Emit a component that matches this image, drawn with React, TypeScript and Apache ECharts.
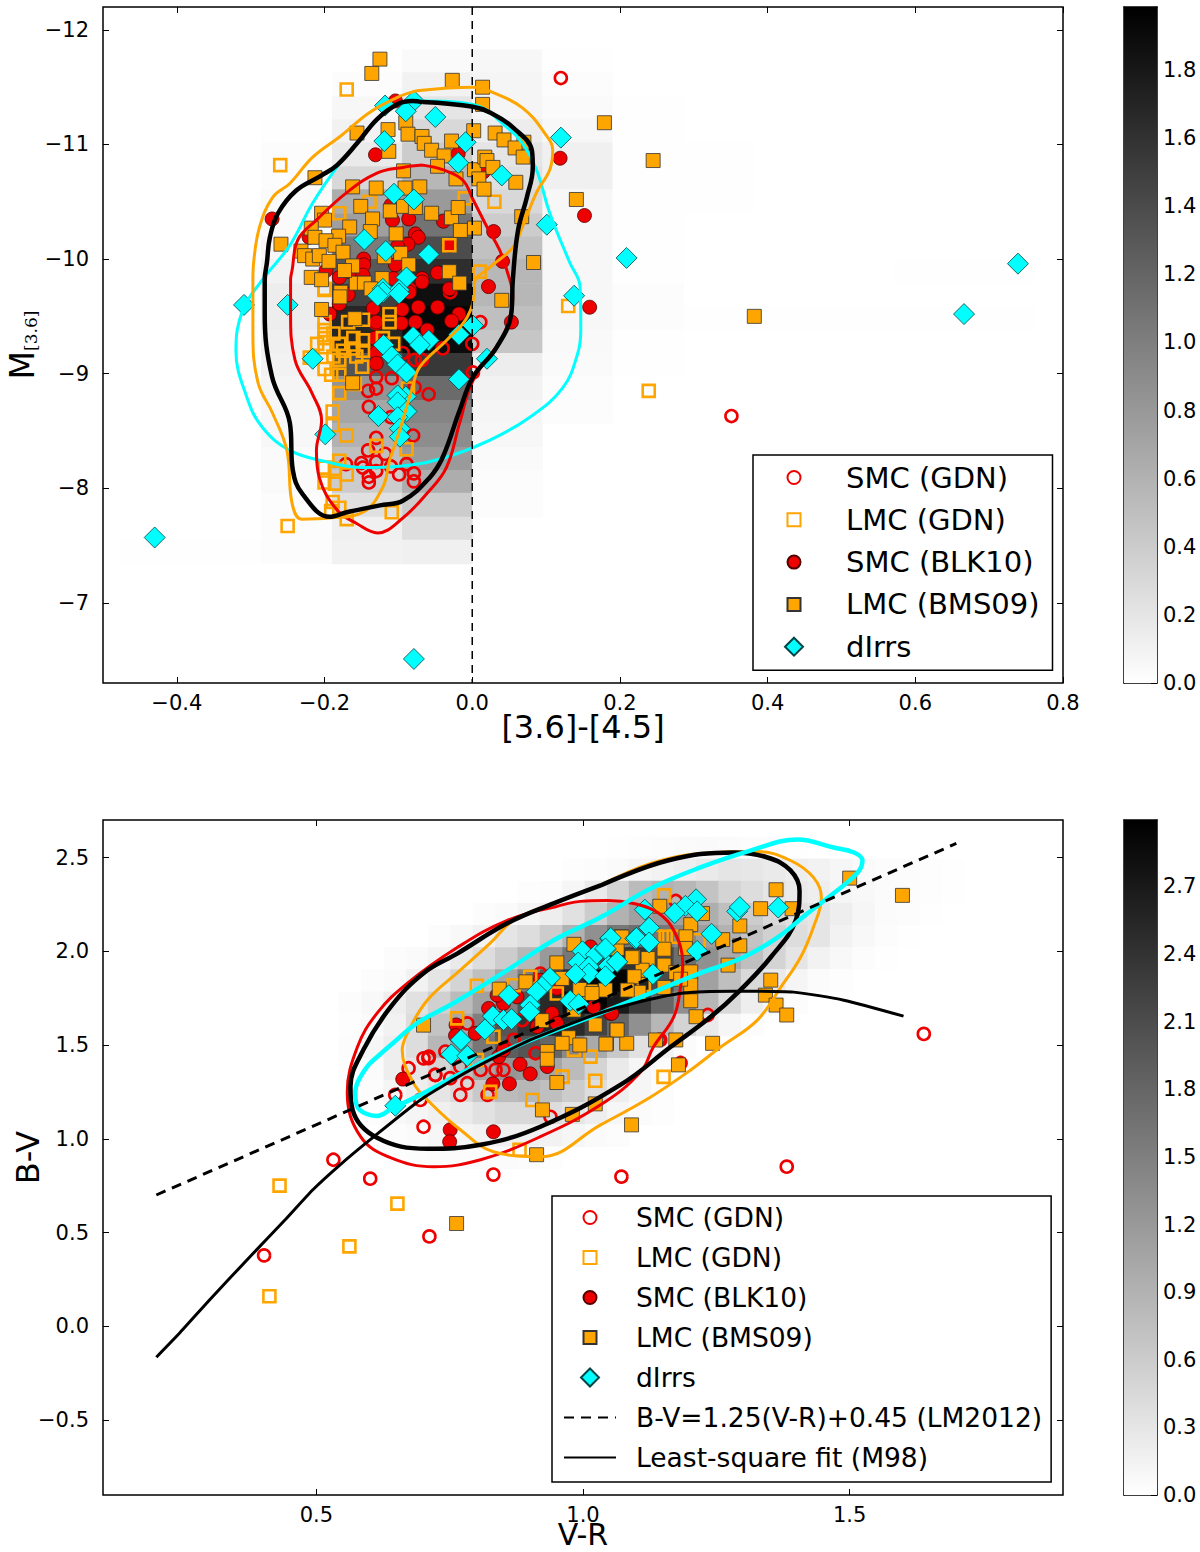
import React, { useEffect, useRef } from "react";
import * as echarts from "echarts";

type P = number[];

// ---------- top panel data ----------
const topHeatX = [-0.476, -0.381, -0.286, -0.19, -0.095, 0, 0.095, 0.19, 0.286, 0.381, 0.476, 0.571, 0.667, 0.762];
const topHeatY = [-11.83, -11.63, -11.42, -11.22, -11.02, -10.81, -10.61, -10.4, -10.2, -10.0, -9.79, -9.59, -9.38, -9.18, -8.98, -8.77, -8.57, -8.36, -8.16, -7.96, -7.75, -7.55, -7.34];
const topHeat = [
  [0, 0, 0, 0, 0.04, 0.06, 0.01, 0, 0, 0, 0, 0, 0],
  [0, 0, 0, 0.02, 0.1, 0.08, 0.02, 0, 0, 0, 0, 0, 0],
  [0, 0, 0, 0.06, 0.2, 0.08, 0.04, 0.01, 0, 0, 0, 0, 0],
  [0, 0, 0.01, 0.1, 0.3, 0.14, 0.06, 0.01, 0, 0, 0, 0, 0],
  [0, 0, 0.02, 0.16, 0.4, 0.2, 0.12, 0.01, 0.01, 0, 0, 0, 0],
  [0, 0, 0.02, 0.3, 0.56, 0.24, 0.12, 0.01, 0.01, 0, 0, 0, 0],
  [0, 0, 0.04, 0.64, 0.79, 0.3, 0.06, 0.01, 0.01, 0, 0, 0, 0],
  [0, 0, 0.04, 0.75, 1.09, 0.4, 0.06, 0.01, 0, 0, 0, 0, 0],
  [0, 0, 0.06, 1.03, 1.39, 0.48, 0.06, 0.01, 0, 0, 0, 0, 0],
  [0, 0, 0.1, 1.29, 1.63, 0.56, 0.06, 0.01, 0, 0, 0, 0.01, 0.01],
  [0, 0, 0.14, 1.49, 1.87, 0.56, 0.06, 0.02, 0, 0, 0, 0, 0],
  [0, 0, 0.14, 1.69, 1.93, 0.5, 0.06, 0.02, 0.01, 0.01, 0.01, 0.01, 0.01],
  [0, 0, 0.12, 1.69, 1.89, 0.44, 0.05, 0.01, 0, 0, 0, 0, 0],
  [0, 0, 0.1, 1.33, 1.55, 0.14, 0.04, 0.01, 0, 0, 0, 0, 0],
  [0, 0, 0.08, 0.83, 1.15, 0.1, 0.02, 0, 0, 0, 0, 0, 0],
  [0, 0, 0.06, 0.69, 0.95, 0.08, 0.02, 0, 0, 0, 0, 0, 0],
  [0, 0, 0.06, 0.6, 0.89, 0.06, 0, 0, 0, 0, 0, 0, 0],
  [0, 0, 0.04, 0.5, 0.79, 0.04, 0, 0, 0, 0, 0, 0, 0],
  [0, 0, 0.04, 0.4, 0.64, 0.02, 0, 0, 0, 0, 0, 0, 0],
  [0, 0, 0.02, 0.24, 0.4, 0.02, 0, 0, 0, 0, 0, 0, 0],
  [0, 0, 0.02, 0.12, 0.26, 0, 0, 0, 0, 0, 0, 0, 0],
  [0.01, 0.01, 0.02, 0.1, 0.12, 0, 0, 0, 0, 0, 0, 0, 0],
];

const topSmcGdn: P[] = [[0.12, -11.58], [0.351, -8.63], [-0.03, -9.71], [0.011, -9.45], [0, -9.26], [-0.04, -9.22], [-0.078, -9.12], [-0.068, -9.12], [0.001, -9.01], [-0.13, -8.97], [-0.109, -8.96], [-0.078, -8.88], [-0.059, -8.82], [-0.141, -8.85], [-0.13, -8.87], [-0.14, -8.71], [-0.11, -8.62], [-0.08, -8.46], [-0.13, -8.44], [-0.141, -8.33], [-0.118, -8.3], [-0.171, -8.21], [-0.15, -8.22], [-0.148, -8.18], [-0.13, -8.23], [-0.13, -8.15], [-0.11, -8.19], [-0.089, -8.21], [-0.099, -8.12], [-0.079, -8.13], [-0.079, -8.06], [-0.14, -8.05], [-0.14, -8.1], [-0.13, -9.44], [-0.13, -9.31], [-0.13, -9.19], [-0.094, -9.18]];
const topLmcGdn: P[] = [[-0.2, -9.73], [-0.148, -9.47], [-0.2, -9.45], [-0.2, -9.38], [-0.2, -9.31], [-0.2, -9.23], [-0.21, -9.26], [-0.22, -9.14], [-0.2, -9.04], [-0.191, -8.99], [-0.18, -8.99], [-0.188, -9.15], [-0.18, -9.12], [-0.175, -9.2], [-0.188, -9.35], [-0.18, -9.26], [-0.157, -9.15], [-0.161, -9.31], [-0.148, -9.29], [-0.161, -9.22], [-0.149, -9.06], [-0.159, -8.91], [-0.18, -8.83], [-0.168, -9.45], [-0.148, -9.2], [-0.112, -9.52], [-0.112, -9.45], [-0.107, -9.26], [-0.121, -9.31], [-0.087, -8.87], [-0.189, -8.67], [-0.189, -8.55], [-0.17, -8.46], [-0.13, -8.37], [-0.089, -8.34], [-0.18, -8.24], [-0.2, -8.18], [-0.186, -8.17], [-0.17, -8.12], [-0.2, -8.05], [-0.186, -8.04], [-0.189, -7.88], [-0.18, -7.83], [-0.191, -7.8], [-0.17, -7.73], [-0.109, -7.79], [-0.25, -7.67], [0.13, -9.59], [-0.17, -11.48], [-0.26, -10.82], [-0.18, -10.4], [-0.139, -10.5], [-0.01, -10.53], [0.03, -10.5], [-0.031, -10.12], [0.01, -9.89], [-0.2, -9.74], [0.239, -8.85]];
const topSmcBlk: P[] = [[-0.104, -11.38], [-0.131, -10.91], [-0.271, -10.35], [0.119, -10.88], [0.152, -10.38], [-0.031, -10.12], [0.029, -10.24], [0.041, -9.98], [0.022, -9.76], [-0.039, -10.33], [-0.077, -10.22], [-0.073, -10.19], [-0.087, -10.13], [-0.101, -10.11], [-0.086, -10.35], [-0.108, -10.34], [-0.11, -10.47], [-0.147, -10.0], [-0.147, -9.95], [-0.104, -9.95], [-0.198, -9.9], [-0.18, -9.84], [-0.166, -9.89], [-0.148, -9.86], [-0.068, -9.83], [-0.047, -9.88], [-0.221, -10.19], [0.015, -10.76], [-0.019, -10.92], [-0.085, -9.74], [-0.031, -9.74], [-0.107, -9.83], [0.053, -9.45], [-0.095, -9.56], [-0.073, -9.58], [-0.047, -9.58], [-0.018, -9.52], [-0.028, -9.46], [-0.077, -9.45], [-0.096, -9.44], [-0.061, -9.38], [-0.085, -9.71], [-0.068, -9.8], [-0.134, -9.57], [-0.18, -9.61], [-0.168, -9.69], [-0.193, -9.52], [-0.13, -9.45], [-0.132, -9.31], [-0.13, -9.18], [-0.13, -9.09], [0.159, -9.58]];
const topLmcBms: P[] = [[-0.125, -11.745], [-0.136, -11.62], [-0.027, -11.56], [0.014, -11.5], [0.014, -11.35], [-0.114, -11.13], [-0.09, -11.19], [-0.087, -11.09], [-0.068, -11.07], [-0.065, -11.01], [-0.055, -10.95], [-0.038, -10.9], [0.002, -11.12], [-0.028, -11.03], [0.031, -11.1], [0.043, -11.04], [0.07, -11.02], [0.058, -10.97], [0.069, -10.89], [-0.113, -10.94], [-0.156, -11.1], [-0.213, -10.71], [-0.093, -10.77], [-0.047, -10.81], [-0.022, -10.7], [0.003, -10.78], [0.017, -10.89], [0.02, -10.86], [0.028, -10.8], [0.009, -10.7], [0.016, -10.61], [0.059, -10.67], [-0.162, -10.63], [-0.13, -10.62], [-0.091, -10.62], [-0.071, -10.63], [-0.151, -10.46], [-0.111, -10.42], [-0.093, -10.46], [-0.077, -10.45], [-0.055, -10.4], [-0.028, -10.36], [-0.019, -10.45], [-0.016, -10.25], [0.003, -10.27], [0.067, -10.37], [-0.204, -10.4], [-0.2, -10.34], [-0.135, -10.35], [-0.218, -10.27], [-0.213, -10.19], [-0.259, -10.13], [-0.166, -10.28], [-0.138, -10.24], [-0.181, -10.2], [-0.103, -10.22], [-0.198, -10.16], [-0.186, -10.12], [-0.175, -10.06], [-0.232, -10.07], [-0.227, -10.03], [-0.216, -10.0], [-0.207, -10.03], [-0.194, -9.98], [-0.162, -9.94], [-0.097, -10.05], [-0.119, -10.02], [-0.086, -9.95], [0.083, -9.97], [-0.218, -9.84], [-0.031, -9.89], [-0.017, -9.79], [-0.122, -9.83], [-0.157, -9.79], [-0.146, -9.79], [-0.137, -9.74], [0.141, -10.52], [0.179, -11.19], [0.245, -10.86], [0.382, -9.5], [0.04, -9.64], [-0.204, -9.56], [-0.178, -9.71], [-0.173, -9.9], [-0.204, -9.82], [-0.179, -9.67], [-0.159, -9.48], [-0.162, -8.92]];
const topDirr: P[] = [[-0.118, -11.34], [-0.079, -11.38], [-0.09, -11.29], [-0.05, -11.24], [-0.119, -11.03], [-0.009, -11.02], [0.12, -11.06], [-0.019, -10.84], [0.04, -10.73], [-0.106, -10.57], [-0.079, -10.52], [0.101, -10.3], [-0.146, -10.17], [-0.117, -10.07], [-0.059, -10.04], [-0.089, -9.84], [-0.121, -9.74], [-0.099, -9.73], [0.209, -10.01], [0.138, -9.68], [0.739, -9.96], [0.666, -9.52], [-0.309, -9.6], [-0.25, -9.6], [-0.43, -7.57], [-0.079, -6.51], [-0.121, -9.71], [-0.128, -9.68], [-0.099, -9.7], [-0.08, -9.32], [-0.059, -9.29], [-0.071, -9.25], [-0.018, -9.34], [0.001, -9.42], [-0.12, -9.25], [-0.109, -9.15], [-0.101, -9.08], [-0.089, -9.01], [0.02, -9.13], [-0.216, -9.13], [-0.018, -8.95], [-0.09, -8.8], [-0.101, -8.81], [-0.101, -8.75], [-0.089, -8.67], [-0.127, -8.63], [-0.101, -8.62], [-0.098, -8.52], [-0.098, -8.45], [-0.199, -8.47]];

const topBlackContour: P[] = [[-0.067, -11.37], [0.001, -11.33], [0.024, -11.28], [0.055, -11.15], [0.081, -10.94], [0.082, -10.8], [0.074, -10.54], [0.062, -10.25], [0.055, -9.82], [0.053, -9.53], [0.033, -9.23], [0.001, -8.97], [-0.017, -8.68], [-0.04, -8.27], [-0.058, -8.09], [-0.094, -7.89], [-0.125, -7.85], [-0.17, -7.79], [-0.193, -7.75], [-0.23, -7.95], [-0.243, -8.16], [-0.247, -8.57], [-0.271, -8.97], [-0.281, -9.53], [-0.281, -9.82], [-0.278, -9.97], [-0.274, -10.19], [-0.263, -10.4], [-0.238, -10.6], [-0.204, -10.73], [-0.183, -10.82], [-0.156, -11.01], [-0.129, -11.22], [-0.102, -11.35], [-0.081, -11.38], [-0.067, -11.37]];
const topOrangeContour: P[] = [[-0.075, -11.47], [0.001, -11.5], [0.026, -11.46], [0.068, -11.32], [0.098, -11.1], [0.109, -10.95], [0.105, -10.78], [0.087, -10.58], [0.068, -10.28], [0.055, -10.1], [0.024, -9.93], [0.003, -9.79], [0.003, -9.73], [-0.007, -9.49], [-0.035, -9.29], [-0.071, -9.06], [-0.081, -8.88], [-0.098, -8.51], [-0.112, -8.24], [-0.121, -8.01], [-0.148, -7.79], [-0.193, -7.74], [-0.231, -7.73], [-0.244, -7.87], [-0.251, -8.33], [-0.27, -8.65], [-0.29, -8.92], [-0.297, -9.35], [-0.297, -9.82], [-0.296, -9.97], [-0.288, -10.28], [-0.27, -10.54], [-0.247, -10.66], [-0.216, -10.89], [-0.179, -11.07], [-0.139, -11.28], [-0.102, -11.41], [-0.075, -11.47]];
const topRedContour: P[] = [[-0.067, -10.82], [-0.04, -10.78], [-0.013, -10.69], [0.001, -10.52], [0.02, -10.28], [0.037, -10.08], [0.047, -9.9], [0.055, -9.67], [0.053, -9.55], [0.041, -9.32], [0.001, -8.94], [-0.017, -8.57], [-0.035, -8.18], [-0.062, -7.95], [-0.094, -7.74], [-0.128, -7.61], [-0.156, -7.69], [-0.183, -7.81], [-0.207, -8.09], [-0.211, -8.33], [-0.204, -8.59], [-0.217, -8.83], [-0.24, -9.12], [-0.246, -9.53], [-0.246, -9.82], [-0.244, -9.9], [-0.236, -10.17], [-0.211, -10.34], [-0.17, -10.58], [-0.129, -10.75], [-0.094, -10.8], [-0.067, -10.82]];
const topCyanContour: P[] = [[-0.102, -11.35], [-0.067, -11.38], [0.001, -11.35], [0.047, -11.15], [0.068, -11.01], [0.087, -10.78], [0.105, -10.4], [0.132, -9.97], [0.146, -9.76], [0.147, -9.38], [0.143, -9.18], [0.123, -8.88], [0.078, -8.62], [0.024, -8.42], [-0.035, -8.27], [-0.085, -8.2], [-0.148, -8.18], [-0.197, -8.23], [-0.247, -8.33], [-0.284, -8.53], [-0.305, -8.79], [-0.32, -9.2], [-0.311, -9.55], [-0.284, -9.82], [-0.247, -10.12], [-0.216, -10.49], [-0.179, -10.84], [-0.156, -11.01], [-0.129, -11.22], [-0.102, -11.35]];
const zeroLine: P[] = [[0, -12.2], [0, -6.3]];

// ---------- bottom panel data ----------
const botHeatX = [0.458, 0.5, 0.542, 0.584, 0.626, 0.668, 0.709, 0.751, 0.793, 0.835, 0.877, 0.919, 0.961, 1.003, 1.045, 1.086, 1.128, 1.17, 1.212, 1.254, 1.296, 1.338, 1.38, 1.421, 1.463, 1.505, 1.547, 1.589, 1.631, 1.673, 1.715];
const botHeatY = [2.612, 2.494, 2.376, 2.258, 2.14, 2.022, 1.904, 1.785, 1.667, 1.549, 1.431, 1.313, 1.195, 1.077, 0.959, 0.841];
const botHeat = [
  [0, 0, 0, 0, 0, 0, 0, 0, 0, 0, 0, 0, 0, 0, 0.01, 0.02, 0.03, 0.05, 0.06, 0.05, 0.04, 0.03, 0.01, 0, 0, 0, 0, 0, 0, 0],
  [0, 0, 0, 0, 0, 0, 0, 0, 0, 0, 0, 0, 0.02, 0.04, 0.06, 0.1, 0.15, 0.2, 0.25, 0.3, 0.28, 0.25, 0.2, 0.15, 0.1, 0.06, 0.04, 0.03, 0.02, 0.01],
  [0, 0, 0, 0, 0, 0, 0, 0, 0, 0, 0.02, 0.04, 0.1, 0.25, 0.5, 0.8, 0.9, 0.85, 0.7, 0.5, 0.4, 0.3, 0.25, 0.2, 0.12, 0.08, 0.05, 0.03, 0.02, 0.01],
  [0, 0, 0, 0, 0, 0, 0, 0, 0.03, 0.06, 0.12, 0.2, 0.35, 0.6, 0.9, 1.1, 1.2, 1.1, 0.95, 0.75, 0.6, 0.45, 0.35, 0.3, 0.2, 0.1, 0.05, 0.03, 0.01, 0],
  [0, 0, 0, 0, 0, 0, 0.03, 0.08, 0.15, 0.3, 0.4, 0.6, 0.9, 1.3, 1.6, 1.7, 1.6, 1.4, 1.15, 0.9, 0.7, 0.55, 0.4, 0.3, 0.15, 0.08, 0.03, 0.01, 0, 0],
  [0, 0, 0, 0, 0.03, 0.06, 0.12, 0.25, 0.4, 0.6, 0.85, 1.2, 1.6, 2.1, 2.4, 2.4, 2.1, 1.7, 1.3, 1.0, 0.75, 0.5, 0.3, 0.15, 0.08, 0.03, 0.01, 0, 0, 0],
  [0, 0, 0, 0.03, 0.06, 0.15, 0.3, 0.5, 0.75, 1.05, 1.5, 2.0, 2.5, 2.9, 2.95, 2.6, 2.1, 1.6, 1.1, 0.75, 0.45, 0.25, 0.12, 0.05, 0.02, 0, 0, 0, 0, 0],
  [0, 0, 0.03, 0.08, 0.2, 0.35, 0.55, 0.8, 1.1, 1.5, 2.0, 2.5, 2.85, 2.95, 2.7, 2.3, 1.8, 1.3, 0.85, 0.45, 0.2, 0.08, 0.03, 0, 0, 0, 0, 0, 0, 0],
  [0, 0, 0.02, 0.06, 0.15, 0.4, 0.7, 1.0, 1.5, 2.0, 2.4, 2.6, 2.5, 2.2, 1.8, 1.3, 0.85, 0.5, 0.25, 0.1, 0.03, 0, 0, 0, 0, 0, 0, 0, 0, 0],
  [0, 0, 0.03, 0.1, 0.2, 0.4, 0.85, 1.2, 1.6, 1.9, 2.0, 1.8, 1.4, 1.0, 0.65, 0.35, 0.15, 0.05, 0, 0, 0, 0, 0, 0, 0, 0, 0, 0, 0, 0],
  [0, 0, 0.02, 0.05, 0.2, 0.3, 0.5, 0.75, 1.05, 1.25, 1.2, 1.05, 0.8, 0.5, 0.25, 0.1, 0.05, 0, 0, 0, 0, 0, 0, 0, 0, 0, 0, 0, 0, 0],
  [0, 0, 0, 0.03, 0.12, 0.2, 0.3, 0.45, 0.65, 0.8, 0.85, 0.75, 0.6, 0.4, 0.2, 0.1, 0.03, 0, 0, 0, 0, 0, 0, 0, 0, 0, 0, 0, 0, 0],
  [0, 0, 0, 0.02, 0.08, 0.12, 0.18, 0.25, 0.35, 0.45, 0.45, 0.4, 0.3, 0.2, 0.1, 0.05, 0.02, 0, 0, 0, 0, 0, 0, 0, 0, 0, 0, 0, 0, 0],
  [0, 0, 0, 0, 0.03, 0.06, 0.1, 0.12, 0.15, 0.18, 0.18, 0.15, 0.1, 0.06, 0.03, 0, 0, 0, 0, 0, 0, 0, 0, 0, 0, 0, 0, 0, 0, 0],
  [0, 0, 0, 0, 0.02, 0.03, 0.05, 0.05, 0.05, 0.05, 0.03, 0.02, 0, 0, 0, 0, 0, 0, 0, 0, 0, 0, 0, 0, 0, 0, 0, 0, 0, 0],
];

const botSmcGdn: P[] = [[1.639, 1.559], [1.382, 0.851], [1.072, 0.798], [0.832, 0.809], [0.532, 0.888], [0.601, 0.787], [0.712, 0.479], [0.402, 0.378], [1.234, 1.66], [1.183, 1.404], [1.145, 1.527], [0.701, 1.064], [0.648, 1.234], [0.695, 1.207], [0.939, 1.117], [0.71, 1.43], [0.723, 1.34], [0.673, 1.376], [0.701, 1.429], [0.711, 1.438], [0.723, 1.341], [0.742, 1.465], [0.751, 1.323], [0.783, 1.296], [0.77, 1.385], [0.808, 1.367], [0.851, 1.367], [0.836, 1.367], [0.87, 1.527], [0.886, 1.633], [0.783, 1.615], [0.911, 1.456], [0.92, 1.881], [0.845, 1.642], [1.142, 1.527], [1.174, 2.268], [0.77, 1.234], [0.821, 1.234]];
const botLmcGdn: P[] = [[0.431, 0.75], [0.412, 0.16], [0.652, 0.654], [0.562, 0.426], [0.881, 0.941], [1.151, 1.33], [1.023, 1.309], [0.962, 1.33], [0.826, 1.25], [0.801, 1.816], [0.87, 1.819], [0.901, 1.864], [0.832, 1.544], [0.764, 1.642], [0.801, 1.42], [0.961, 1.332], [1.014, 1.438], [0.951, 1.775], [0.983, 1.474], [1.014, 1.784], [1.152, 2.298], [1.139, 2.077], [1.155, 2.077], [1.17, 2.077], [1.217, 2.059], [1.114, 1.82], [0.905, 1.207]];
const botSmcBlk: P[] = [[0.762, 1.607], [0.761, 1.55], [0.662, 1.318], [0.823, 1.695], [0.851, 1.722], [0.798, 1.562], [0.842, 1.438], [0.851, 1.474], [0.882, 1.397], [0.901, 1.346], [0.831, 1.293], [0.862, 1.293], [0.933, 1.385], [0.942, 1.669], [0.951, 1.802], [0.92, 1.846], [1.014, 2.023], [1.051, 1.669], [1.02, 1.704], [0.951, 1.615], [0.914, 1.598], [0.876, 1.757], [0.839, 1.766], [0.751, 1.048], [0.75, 0.984], [0.832, 1.037], [1.054, 1.669]];
const botLmcBms: P[] = [[1.5, 2.39], [1.362, 2.328], [1.333, 2.227], [1.392, 2.227], [1.294, 2.135], [1.294, 2.029], [1.272, 1.926], [1.352, 1.846], [1.342, 1.766], [1.362, 1.713], [1.382, 1.66], [1.144, 2.24], [1.224, 2.201], [1.202, 2.142], [1.193, 2.077], [1.192, 2.015], [1.262, 2.062], [1.152, 2.011], [1.122, 1.961], [1.094, 1.97], [1.152, 1.926], [1.202, 1.89], [1.202, 1.82], [1.174, 1.887], [1.183, 1.851], [1.152, 1.807], [1.111, 1.899], [1.096, 1.864], [1.105, 1.781], [1.071, 2.077], [1.064, 2.015], [1.042, 1.793], [1.083, 1.793], [1.063, 1.58], [1.044, 1.509], [1.082, 1.509], [1.202, 1.736], [1.212, 1.651], [1.174, 1.527], [1.243, 1.509], [1.599, 2.298], [1.179, 1.394], [1.091, 1.074], [0.98, 1.13], [0.924, 1.154], [0.913, 0.915], [1.023, 1.186], [0.763, 0.548], [0.701, 1.606], [1.136, 1.527], [0.983, 2.037], [0.951, 1.938], [0.893, 1.837], [0.843, 1.798], [1.064, 1.58], [1.043, 1.505], [1.023, 1.607], [0.973, 1.539], [0.994, 1.5], [0.961, 1.509], [0.923, 1.63], [0.933, 1.465], [0.933, 1.424], [0.951, 1.3], [0.994, 1.796], [1.073, 2.076], [1.092, 1.966], [0.961, 1.855], [0.983, 1.686], [1.017, 1.775]];
const botDirr: P[] = [[1.051, 2.067], [1.098, 2.067], [0.999, 2.0], [1.024, 1.982], [1.042, 2.009], [0.991, 1.94], [1.011, 1.917], [1.011, 1.881], [0.986, 1.878], [1.048, 1.922], [1.064, 1.943], [1.042, 1.867], [0.938, 1.858], [0.923, 1.81], [0.913, 1.784], [0.861, 1.766], [0.901, 1.713], [0.9, 1.677], [0.976, 1.736], [0.992, 1.718], [0.831, 1.654], [0.851, 1.633], [0.866, 1.638], [0.816, 1.583], [0.771, 1.527], [0.753, 1.45], [0.783, 1.442], [0.648, 1.176], [1.212, 2.277], [1.192, 2.242], [1.116, 2.222], [1.172, 2.204], [1.214, 2.213], [1.289, 2.213], [1.294, 2.236], [1.366, 2.233], [1.124, 2.126], [1.241, 2.093], [1.1, 2.071], [1.124, 2.047], [1.052, 2.071], [1.042, 2.015], [1.214, 2.002], [1.064, 1.944], [1.131, 1.878]];

const botBlackContour: P[] = [[1.033, 2.351], [1.159, 2.484], [1.282, 2.527], [1.346, 2.5], [1.389, 2.431], [1.406, 2.324], [1.399, 2.165], [1.352, 1.968], [1.295, 1.793], [1.239, 1.649], [1.164, 1.489], [1.07, 1.287], [0.92, 1.064], [0.808, 0.968], [0.708, 0.947], [0.614, 1.005], [0.568, 1.154], [0.564, 1.277], [0.588, 1.473], [0.639, 1.702], [0.701, 1.883], [0.765, 1.989], [0.858, 2.149], [0.945, 2.255], [1.033, 2.351]];
const botOrangeContour: P[] = [[1.033, 2.351], [1.127, 2.468], [1.22, 2.521], [1.327, 2.532], [1.389, 2.484], [1.432, 2.394], [1.447, 2.287], [1.432, 2.128], [1.408, 1.968], [1.371, 1.809], [1.327, 1.633], [1.258, 1.489], [1.202, 1.367], [1.127, 1.223], [1.033, 1.074], [0.92, 0.904], [0.832, 0.931], [0.77, 1.048], [0.714, 1.191], [0.682, 1.298], [0.661, 1.473], [0.671, 1.564], [0.708, 1.739], [0.77, 1.899], [0.826, 2.043], [0.87, 2.165], [0.945, 2.255], [1.033, 2.351]];
const botRedContour: P[] = [[0.945, 2.234], [0.995, 2.266], [1.046, 2.271], [1.095, 2.255], [1.14, 2.207], [1.17, 2.112], [1.187, 1.936], [1.183, 1.809], [1.17, 1.649], [1.132, 1.489], [1.108, 1.356], [1.033, 1.181], [0.92, 1.011], [0.808, 0.888], [0.72, 0.851], [0.639, 0.899], [0.583, 1.011], [0.558, 1.245], [0.577, 1.489], [0.614, 1.67], [0.671, 1.83], [0.765, 2.021], [0.858, 2.165], [0.945, 2.234]];
const botCyanContour: P[] = [[0.601, 1.404], [0.644, 1.511], [0.689, 1.617], [0.757, 1.723], [0.858, 1.899], [0.945, 2.059], [1.033, 2.181], [1.127, 2.335], [1.22, 2.447], [1.314, 2.537], [1.402, 2.596], [1.47, 2.553], [1.508, 2.527], [1.524, 2.484], [1.515, 2.42], [1.47, 2.309], [1.421, 2.202], [1.365, 2.074], [1.301, 1.968], [1.22, 1.883], [1.127, 1.777], [1.033, 1.67], [0.87, 1.489], [0.783, 1.367], [0.695, 1.234], [0.644, 1.165], [0.614, 1.122], [0.577, 1.17], [0.573, 1.25], [0.601, 1.404]];
const lmLine: P[] = [[0.2, 0.7], [1.7, 2.575]];
const m98Line: P[] = [[0.2, -0.165], [0.245, -0.032], [0.301, 0.144], [0.376, 0.372], [0.442, 0.569], [0.494, 0.729], [0.545, 0.862], [0.601, 0.995], [0.695, 1.207], [0.789, 1.367], [0.901, 1.527], [1.02, 1.66], [1.095, 1.723], [1.189, 1.777], [1.282, 1.787], [1.395, 1.782], [1.489, 1.739], [1.601, 1.654]];

// ---------- ticks ----------
const topXTicks = [-0.4, -0.2, 0, 0.2, 0.4, 0.6, 0.8];
const topYTicks = [-12, -11, -10, -9, -8, -7];
const botXTicks = [0.5, 1.0, 1.5];
const botYTicks = [-0.5, 0, 0.5, 1.0, 1.5, 2.0, 2.5];
const topBarTicks = [0, 0.2, 0.4, 0.6, 0.8, 1.0, 1.2, 1.4, 1.6, 1.8];
const botBarTicks = [0, 0.3, 0.6, 0.9, 1.2, 1.5, 1.8, 2.1, 2.4, 2.7];
const topMax = 1.985;
const botMax = 2.995;

const FONT = "DejaVu Sans";
const RED = "#ee0000";
const ORANGE = "#ffa500";
const CYAN = "#00ffff";

// Zero-length corner segments keep every legend icon in the same 18-unit box.
const BOX = "M0,0L0,0M18,18L18,18";
const CIRCLE_ICON = `path://${BOX}M2.5,9A6.5,6.5,0,1,1,15.5,9A6.5,6.5,0,1,1,2.5,9Z`;
const SQUARE_ICON = `path://${BOX}M2.5,2.5H15.5V15.5H2.5Z`;
const DIAMOND_ICON = "path://M9,0L18,9L9,18L0,9Z";
const legendTop: any[] = [
  { name: "SMC (GDN)", icon: CIRCLE_ICON },
  { name: "LMC (GDN)", icon: SQUARE_ICON },
  { name: "SMC (BLK10)", icon: CIRCLE_ICON },
  { name: "LMC (BMS09)", icon: SQUARE_ICON },
  { name: "dIrrs", icon: DIAMOND_ICON },
];
const legendBot: any[] = [
  ...legendTop,
  { name: "B-V=1.25(V-R)+0.45 (LM2012)", itemStyle: { opacity: 0, borderWidth: 0 } },
  { name: "Least-square fit (M98)", itemStyle: { opacity: 0, borderWidth: 0 } },
];

const fmt1 = (v: number) => v.toFixed(1).replace("-", "\u2212");
const fmt0 = (v: number) => String(v).replace("-", "\u2212");

function axis(dim: "x" | "y", gridIndex: number, min: number, max: number, ticks: number[], fmt: (v: number) => string, extra: any = {}) {
  return [
    {
      type: "value", gridIndex, min, max, position: dim === "x" ? "bottom" : "left", splitLine: { show: false },
      axisLine: { show: false, onZero: false },
      axisTick: { show: true, inside: true, length: 6, customValues: ticks, lineStyle: { color: "#000", width: 1 } },
      axisLabel: { show: true, customValues: ticks, formatter: fmt, color: "#000", fontSize: 21, lineHeight: 19, fontFamily: FONT, margin: dim === "x" ? 10 : 14 },
      nameLocation: "middle",
      nameMoveOverlap: false,
      nameTextStyle: { color: "#000", fontSize: 32, lineHeight: 26, fontFamily: FONT },
      ...extra,
    },
    {
      type: "value", gridIndex, min, max, position: dim === "x" ? "top" : "right", inverse: extra.inverse, splitLine: { show: false },
      axisLine: { show: false, onZero: false },
      axisTick: { show: true, inside: true, length: 6, customValues: ticks, lineStyle: { color: "#000", width: 1 } },
      axisLabel: { show: false },
    },
  ];
}

function heatCells(xs: number[], ys: number[], m: number[][]) {
  const out: number[][] = [];
  m.forEach((row, r) => row.forEach((v, c) => { if (v > 0) out.push([xs[c], ys[r], xs[c + 1], ys[r + 1], v]); }));
  return out;
}

function heatSeries(cells: number[][], idx: number, max: number) {
  return {
    type: "custom", xAxisIndex: idx, yAxisIndex: idx, silent: true, clip: true, data: cells, encode: { x: [0, 2], y: [1, 3] },
    renderItem: (_p: any, api: any) => {
      const a = api.coord([api.value(0), api.value(1)]);
      const b = api.coord([api.value(2), api.value(3)]);
      const g = Math.round(255 * (1 - api.value(4) / max));
      return {
        type: "rect",
        shape: { x: Math.min(a[0], b[0]), y: Math.min(a[1], b[1]), width: Math.abs(b[0] - a[0]) + 0.5, height: Math.abs(b[1] - a[1]) + 0.5 },
        style: { fill: `rgb(${g},${g},${g})` },
      };
    },
  };
}

function contour(data: P[], color: string, width: number, idx: number) {
  return { type: "line", xAxisIndex: idx, yAxisIndex: idx, data, smooth: 0.4, symbol: "none", silent: true, lineStyle: { color, width } };
}

function scatter(name: string, data: P[], idx: number, symbol: string, size: number, style: any) {
  return { type: "scatter", name, data, xAxisIndex: idx, yAxisIndex: idx, symbol, symbolSize: size, silent: true, itemStyle: { opacity: 1, ...style } };
}

function panelMarkers(idx: number, d: { sg: P[]; lg: P[]; sb: P[]; lb: P[]; di: P[] }, extra: any[] = []) {
  const hollow = "rgba(0,0,0,0)";
  return [
    scatter("SMC (GDN)", d.sg, idx, "circle", 12, { color: hollow, borderColor: RED, borderWidth: 2.6 }),
    scatter("SMC (BLK10)", d.sb, idx, "circle", 14, { color: RED, borderColor: "#500", borderWidth: 0.8 }),
    scatter("LMC (GDN)", d.lg, idx, "rect", 12, { color: hollow, borderColor: ORANGE, borderWidth: 2.6 }),
    scatter("LMC (BMS09)", d.lb, idx, "rect", 14, { color: ORANGE, borderColor: "#333", borderWidth: 0.8 }),
    ...extra,
    scatter("dIrrs", d.di, idx, "diamond", 21, { color: CYAN, borderColor: "#044", borderWidth: 0.8 }),
  ];
}

function colorBar(grid: number, xIdx: number, yIdx: number, max: number, ticks: number[]) {
  const edge = { show: true, onZero: false, lineStyle: { color: "#000", width: 1.5 } };
  return {
    xAxis: [
      { type: "category", gridIndex: grid, data: [""], position: "bottom", axisLine: edge, axisTick: { show: false }, axisLabel: { show: false } },
      { type: "category", gridIndex: grid, data: [""], position: "top", axisLine: edge, axisTick: { show: false }, axisLabel: { show: false } },
    ],
    yAxis: [
      {
        type: "value", gridIndex: grid, min: 0, max, position: "right", splitLine: { show: false },
        axisLine: edge,
        axisTick: { show: true, inside: true, length: 6, customValues: ticks, lineStyle: { color: "#000", width: 1 } },
        axisLabel: { show: true, customValues: ticks, formatter: (v: number) => v.toFixed(1), color: "#000", fontSize: 21, fontFamily: FONT, margin: 6 },
      },
      { type: "value", gridIndex: grid, min: 0, max, position: "left", splitLine: { show: false }, axisLine: edge, axisTick: { show: false }, axisLabel: { show: false } },
    ],
    series: {
      type: "bar", xAxisIndex: xIdx, yAxisIndex: yIdx, data: [max], barWidth: "100%", silent: true,
      itemStyle: { color: new echarts.graphic.LinearGradient(0, 0, 0, 1, [{ offset: 0, color: "#000" }, { offset: 1, color: "#fff" }]) },
    },
  };
}

export default function App() {
  const ref = useRef<HTMLDivElement>(null);
  useEffect(() => {
    const chart = echarts.init(ref.current!, undefined, { renderer: "svg" });
    const tx = axis("x", 0, -0.5, 0.8, topXTicks, fmt1, { name: "[3.6]-[4.5]", nameGap: 31 });
    const ty = axis("y", 0, -12.2, -6.3, topYTicks, fmt0, {
      inverse: true, name: "{m|M}{s|[3.6]}", nameGap: 64,
      nameTextStyle: { color: "#000", fontSize: 33, fontFamily: FONT, rich: { m: { fontSize: 33, fontFamily: FONT, color: "#000", verticalAlign: "bottom" }, s: { fontSize: 17, fontFamily: "DejaVu Serif", color: "#000", verticalAlign: "bottom" } } },
    });
    const bx = axis("x", 1, 0.1, 1.9, botXTicks, fmt1, { name: "V-R", nameGap: 26, nameTextStyle: { color: "#000", fontSize: 30, lineHeight: 26, fontFamily: FONT } });
    const by = axis("y", 1, -0.9, 2.7, botYTicks, fmt1, { name: "B-V", nameGap: 62 });
    const cb0 = colorBar(2, 4, 4, topMax, topBarTicks);
    const cb1 = colorBar(3, 6, 6, botMax, botBarTicks);
    const gridBase = { show: true, borderColor: "#000", borderWidth: 1.5, backgroundColor: "#fff", outerBoundsMode: "none" };
    // Main axes sit at even indexes, their mirrors at odd ones; series use the even ones.
    const remap = (s: any) => ({ ...s, xAxisIndex: s.xAxisIndex * 2, yAxisIndex: s.yAxisIndex * 2 });

    const topSeries = [
      heatSeries(heatCells(topHeatX, topHeatY, topHeat), 0, topMax),
      contour(topCyanContour, CYAN, 3, 0),
      contour(topRedContour, RED, 3, 0),
      contour(topOrangeContour, ORANGE, 3, 0),
      contour(topBlackContour, "#000", 4.5, 0),
      { type: "line", xAxisIndex: 0, yAxisIndex: 0, data: zeroLine, symbol: "none", silent: true, lineStyle: { color: "#000", width: 1.5, type: [8, 6] } },
      ...panelMarkers(0, { sg: topSmcGdn, lg: topLmcGdn, sb: topSmcBlk, lb: topLmcBms, di: topDirr }),
    ].map(remap);

    const botSeries = [
      heatSeries(heatCells(botHeatX, botHeatY, botHeat), 1, botMax),
      contour(botRedContour, RED, 3, 1),
      contour(botOrangeContour, ORANGE, 3, 1),
      contour(botBlackContour, "#000", 4.5, 1),
      contour(botCyanContour, CYAN, 4.5, 1),
      ...panelMarkers(1, { sg: botSmcGdn, lg: botLmcGdn, sb: botSmcBlk, lb: botLmcBms, di: botDirr }, [
        { type: "line", name: "B-V=1.25(V-R)+0.45 (LM2012)", xAxisIndex: 1, yAxisIndex: 1, data: lmLine, symbol: "none", silent: true, lineStyle: { color: "#000", width: 3, type: [10, 7] }, itemStyle: { opacity: 0 } },
        { type: "line", name: "Least-square fit (M98)", xAxisIndex: 1, yAxisIndex: 1, data: m98Line, smooth: 0.2, symbol: "none", silent: true, lineStyle: { color: "#000", width: 3 }, itemStyle: { opacity: 0 } },
      ]),
    ].map(remap);

    const legendBase = { orient: "vertical", selectedMode: false, backgroundColor: "#fff", borderColor: "#000", borderWidth: 1.5, align: "left", symbolKeepAspect: true };

    chart.setOption({
      animation: false,
      backgroundColor: "#fff",
      textStyle: { fontFamily: FONT },
      grid: [
        { ...gridBase, left: 103, top: 7, width: 960, height: 676 },
        { ...gridBase, left: 103, top: 820, width: 960, height: 675 },
        { left: 1124, top: 7, width: 33, height: 676, outerBoundsMode: "none" },
        { left: 1124, top: 820, width: 33, height: 675, outerBoundsMode: "none" },
      ],
      xAxis: [...tx, ...bx, ...cb0.xAxis, ...cb1.xAxis],
      yAxis: [...ty, ...by, ...cb0.yAxis, ...cb1.yAxis],
      legend: [
        {
          ...legendBase, data: legendTop, left: 753, top: 455, padding: [8, 13, 9, 31], itemWidth: 52, itemHeight: 18, itemGap: 13.3, textStyle: { fontSize: 29, fontFamily: FONT, color: "#000", padding: [0, 0, 0, 21] },
        },
        {
          ...legendBase, data: legendBot, left: 552, top: 1196, padding: [8, 9, 11, 11], itemWidth: 52, itemHeight: 18, itemGap: 13, textStyle: { fontSize: 26.5, fontFamily: FONT, color: "#000", padding: [0, 0, 0, 15] },
        },
      ],
      series: [...topSeries, ...botSeries, cb0.series, cb1.series],
    });
    return () => chart.dispose();
  }, []);
  return <div ref={ref} style={{ position: "absolute", left: 0, top: 0, width: 1200, height: 1552 }} />;
}
